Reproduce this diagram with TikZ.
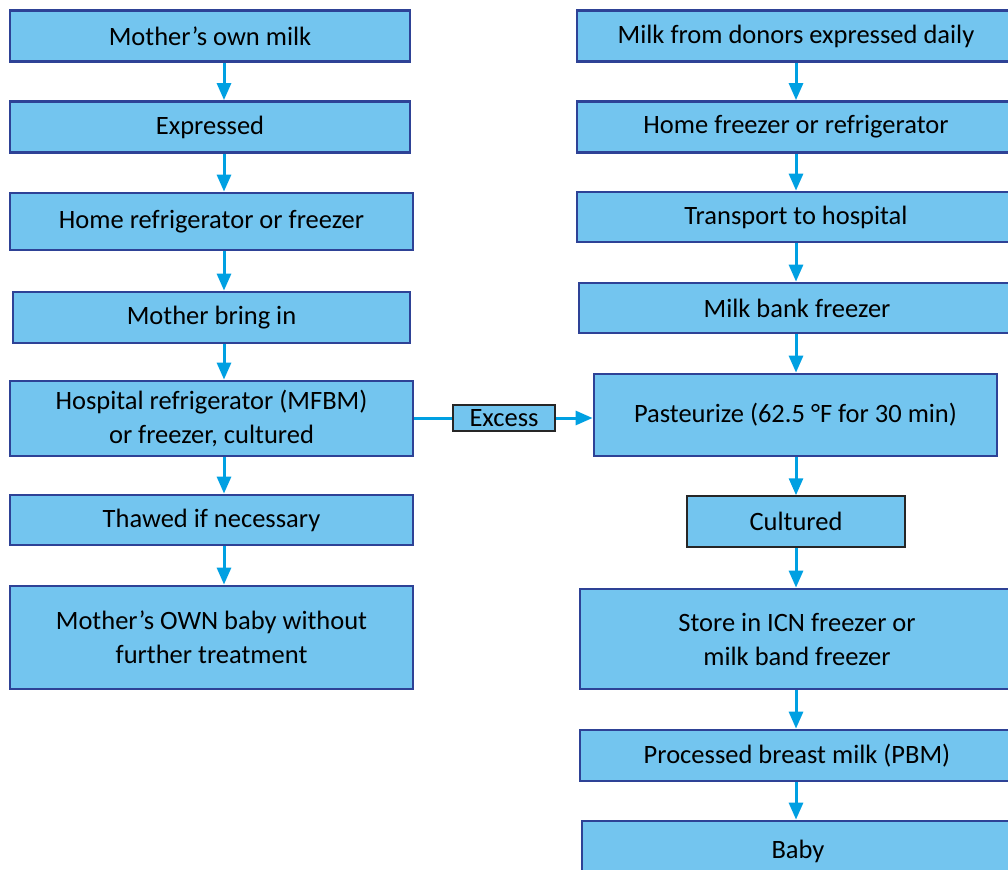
\documentclass[tikz,border=0pt]{standalone}
\usepackage{fontspec}
\setmainfont{Carlito}
\usetikzlibrary{arrows.meta}
\definecolor{boxfill}{RGB}{115,197,239}
\definecolor{boxline}{RGB}{46,66,150}
\definecolor{flowline}{RGB}{0,160,226}
\begin{document}
\begin{tikzpicture}[x=1pt,y=-1pt]
                        \tikzstyle{stepbox}=[draw=boxline, fill=boxfill, line width=2.8pt, inner sep=0pt,
                            align=center, font=\fontsize{26.5}{34}\selectfont]
                        \tikzstyle{notebox}=[stepbox, draw=black!85, line width=1.5pt]
                        \tikzstyle{flow}=[draw=flowline, line width=3pt, -{Triangle[length=17pt,width=14pt]}]
                        \useasboundingbox (0,0) rectangle (1008,869);
                        % mother's own milk
                        \node[stepbox, minimum width=400pt, minimum height=51pt] (momMilk) at (210,36) {Mother’s own milk};
                        \node[stepbox, minimum width=400pt, minimum height=51pt] (expressed) at (210,127) {Expressed};
                        \node[stepbox, minimum width=403pt, minimum height=57pt] (homeFridge) at (211.5,221.5) {Home refrigerator or freezer};
                        \node[stepbox, minimum width=397pt, minimum height=51pt] (bringIn) at (211.5,317.5) {Mother bring in};
                        \node[stepbox, minimum width=403pt, minimum height=75pt] (hospFridge) at (211.5,418.5) {Hospital refrigerator (MFBM)\\or freezer, cultured};
                        \node[stepbox, minimum width=403pt, minimum height=50pt] (thawed) at (211.5,520) {Thawed if necessary};
                        \node[stepbox, minimum width=403pt, minimum height=103pt] (ownBaby) at (211.5,637.5) {Mother’s OWN baby without\\further treatment};
                        \coordinate (leftFlow) at (224,0);
                        % donor milk
                        \node[stepbox, minimum width=438pt, minimum height=51pt] (donorMilk) at (796,36) {Milk from donors expressed daily};
                        \node[stepbox, minimum width=438pt, minimum height=51pt] (homeFreezer) at (796,127) {Home freezer or refrigerator};
                        \node[stepbox, minimum width=438pt, minimum height=50pt] (transport) at (796,217) {Transport to hospital};
                        \node[stepbox, minimum width=436pt, minimum height=50pt] (bankFreezer) at (797,308) {Milk bank freezer};
                        \node[stepbox, minimum width=403pt, minimum height=82pt] (pasteurize) at (795.5,415) {Pasteurize (62.5 °F for 30 min)};
                        \node[notebox, minimum width=218pt, minimum height=51pt] (cultured) at (796,521.5) {Cultured};
                        \node[stepbox, minimum width=434pt, minimum height=100pt] (storeICN) at (797,639) {Store in ICN freezer or\\milk band freezer};
                        \node[stepbox, minimum width=434pt, minimum height=51pt] (processed) at (797,755.5) {Processed breast milk (PBM)};
                        \node[stepbox, minimum width=432pt, minimum height=60pt] (baby) at (798,851) {Baby};
                        % excess goes over to the bank
                        \node[notebox, minimum width=102pt, minimum height=26pt] (excess) at (504,418) {Excess};
                        \draw[flow] (leftFlow |- momMilk.south) -- (leftFlow |- expressed.north);
                        \draw[flow] (leftFlow |- expressed.south) -- (leftFlow |- homeFridge.north);
                        \draw[flow] (leftFlow |- homeFridge.south) -- (leftFlow |- bringIn.north);
                        \draw[flow] (leftFlow |- bringIn.south) -- (leftFlow |- hospFridge.north);
                        \draw[flow] (leftFlow |- hospFridge.south) -- (leftFlow |- thawed.north);
                        \draw[flow] (leftFlow |- thawed.south) -- (leftFlow |- ownBaby.north);
                        \draw[flow] (donorMilk) -- (homeFreezer);
                        \draw[flow] (homeFreezer) -- (transport);
                        \draw[flow] (transport) -- (transport |- bankFreezer.north);
                        \draw[flow] (transport |- bankFreezer.south) -- (transport |- pasteurize.north);
                        \draw[flow] (transport |- pasteurize.south) -- (cultured);
                        \draw[flow] (cultured) -- (cultured |- storeICN.north);
                        \draw[flow] (cultured |- storeICN.south) -- (cultured |- processed.north);
                        \draw[flow] (cultured |- processed.south) -- (cultured |- baby.north);
                        \draw[flow, -] (hospFridge.east |- excess) -- (excess.west);
                        \draw[flow] (excess.east) -- (excess.east -| pasteurize.west);
                    \end{tikzpicture}
\end{document}
